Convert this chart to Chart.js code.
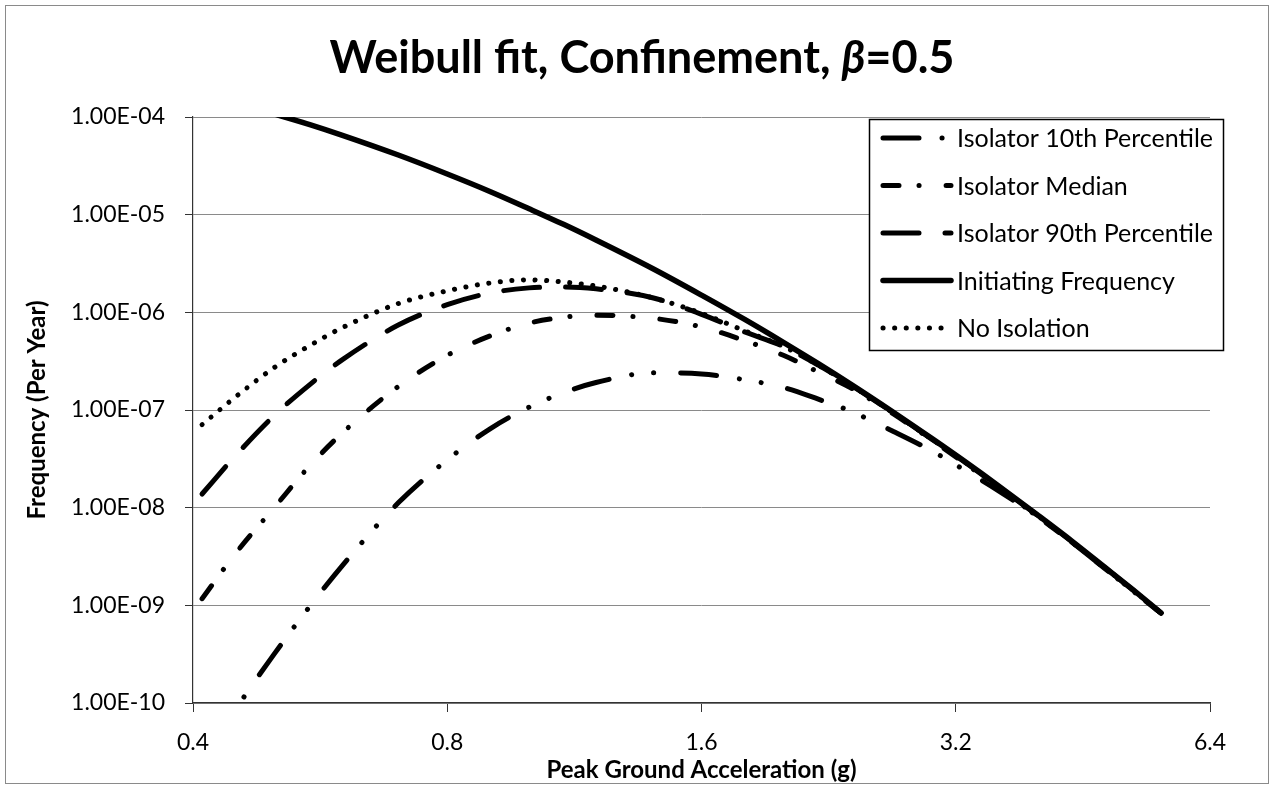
<!DOCTYPE html>
<html>
<head>
<meta charset="utf-8">
<script src="https://cdn.jsdelivr.net/npm/chart.js@4/dist/chart.umd.min.js"></script>
<style>
  html, body { margin: 0; padding: 0; background: #fff; }
  #wrap { width: 1275px; height: 786px; position: relative; }
</style>
</head>
<body>
<div id="wrap"><canvas id="c" width="1275" height="786"></canvas></div>
<script>
// Peak ground acceleration (g)
const accel = [0.41, 0.45, 0.5, 0.55, 0.6, 0.7, 0.8, 0.9, 1.0, 1.1, 1.2, 1.4, 1.6, 1.8, 2.0, 2.2, 2.4, 2.7, 3.0, 3.3, 3.6, 4.0, 4.4, 4.8, 5.2, 5.6];

// Frequencies (per year)
const iso10 = [2.24e-11, 8.71e-11, 3.24e-10, 9.77e-10, 2.51e-9, 1.12e-8, 3.09e-8, 6.46e-8, 1.07e-7, 1.51e-7, 1.91e-7, 2.40e-7, 2.34e-7, 2.04e-7, 1.70e-7, 1.29e-7, 9.77e-8, 6.03e-8, 3.80e-8, 2.34e-8, 1.48e-8, 8.13e-9, 4.37e-9, 2.40e-9, 1.38e-9, 8.32e-10];
const isoMedian = [1.17e-9, 3.47e-9, 1.02e-8, 2.69e-8, 5.75e-8, 1.74e-7, 3.63e-7, 5.75e-7, 7.76e-7, 8.91e-7, 9.33e-7, 8.71e-7, 7.08e-7, 5.13e-7, 3.63e-7, 2.45e-7, 1.70e-7, 9.12e-8, 4.90e-8, 2.75e-8, 1.58e-8, 8.13e-9, 4.37e-9, 2.40e-9, 1.38e-9, 8.32e-10];
const iso90 = [1.38e-8, 3.47e-8, 8.91e-8, 1.82e-7, 3.24e-7, 7.41e-7, 1.20e-6, 1.58e-6, 1.78e-6, 1.82e-6, 1.74e-6, 1.41e-6, 9.55e-7, 6.31e-7, 4.47e-7, 2.88e-7, 1.82e-7, 9.33e-8, 5.01e-8, 2.82e-8, 1.62e-8, 8.32e-9, 4.42e-9, 2.45e-9, 1.41e-9, 8.32e-10];
const initiating = [1.72e-4, 1.39e-4, 1.07e-4, 8.36e-5, 6.53e-5, 4.08e-5, 2.61e-5, 1.72e-5, 1.15e-5, 7.91e-6, 5.50e-6, 2.81e-6, 1.50e-6, 8.45e-7, 4.93e-7, 2.98e-7, 1.85e-7, 9.46e-8, 5.09e-8, 2.86e-8, 1.66e-8, 8.41e-9, 4.49e-9, 2.47e-9, 1.42e-9, 8.39e-10];
const noIsolation = [7.08e-8, 1.38e-7, 2.75e-7, 4.57e-7, 6.92e-7, 1.23e-6, 1.66e-6, 2.00e-6, 2.15e-6, 2.04e-6, 1.86e-6, 1.41e-6, 9.77e-7, 6.46e-7, 4.47e-7, 2.88e-7, 1.82e-7, 9.33e-8, 5.01e-8, 2.82e-8, 1.62e-8, 8.32e-9, 4.47e-9, 2.45e-9, 1.41e-9, 8.38e-10];

const seriesNames = ['Isolator 10th Percentile', 'Isolator Median', 'Isolator 90th Percentile', 'Initiating Frequency', 'No Isolation'];

const xTickValues = [0.4, 0.8, 1.6, 3.2, 6.4];
const xTickLabels = ['0.4', '0.8', '1.6', '3.2', '6.4'];
const yTickValues = [1e-10, 1e-9, 1e-8, 1e-7, 1e-6, 1e-5, 1e-4];
const yTickLabels = ['1.00E-10', '1.00E-09', '1.00E-08', '1.00E-07', '1.00E-06', '1.00E-05', '1.00E-04'];

const FONT = "Lato, 'Open Sans', 'DejaVu Sans', sans-serif";
Chart.defaults.font.family = FONT;
Chart.defaults.color = '#000';

const toPoints = arr => accel.map((x, i) => ({ x: x, y: arr[i] }));

// line patterns: long dash-dot-dot, dash-dot, long dash, solid, round dots
const styles = [
  { dash: [36, 23, 0.1, 22, 0.1, 27] },
  { dash: [16, 20, 0.1, 27] },
  { dash: [36, 26] },
  { dash: [] },
  { dash: [0.1, 11.5] }
];
const seriesData = [iso10, isoMedian, iso90, initiating, noIsolation];

const datasets = seriesData.map((arr, i) => ({
  label: seriesNames[i],
  data: toPoints(arr),
  borderColor: '#000',
  backgroundColor: '#000',
  borderWidth: i === 3 ? 5.5 : 5,
  borderDash: styles[i].dash,
  borderCapStyle: 'round',
  borderJoinStyle: 'round',
  pointRadius: 0,
  pointHoverRadius: 0,
  cubicInterpolationMode: 'monotone',
  fill: false,
  order: seriesData.length - i
}));

// page background and outer frame
const framePlugin = {
  id: 'frame',
  beforeDraw(chart) {
    const ctx = chart.ctx;
    ctx.save();
    ctx.fillStyle = '#fff';
    ctx.fillRect(0, 0, chart.width, chart.height);
    ctx.strokeStyle = '#8a8a8a';
    ctx.lineWidth = 1;
    ctx.strokeRect(5.5, 5.5, 1263, 778);
    ctx.restore();
  }
};

// chart title with an italic beta
const titlePlugin = {
  id: 'richTitle',
  afterDraw(chart) {
    const ctx = chart.ctx;
    const parts = [
      { t: 'Weibull fit, Confinement, ', f: "bold 46px " + FONT },
      { t: '\u03B2', f: "italic bold 46px " + FONT },
      { t: '=0.5', f: "bold 46px " + FONT }
    ];
    ctx.save();
    let total = 0;
    parts.forEach(p => { ctx.font = p.f; p.w = ctx.measureText(p.t).width; total += p.w; });
    const targetW = 625;
    const sx = targetW / total;
    ctx.translate(642 - targetW / 2, 73);
    ctx.scale(sx, 1);
    ctx.fillStyle = '#000';
    ctx.textBaseline = 'alphabetic';
    let x = 0;
    parts.forEach(p => { ctx.font = p.f; ctx.fillText(p.t, x, 0); x += p.w; });
    ctx.restore();
  }
};

// boxed legend in the upper right of the plot
const legendPlugin = {
  id: 'boxLegend',
  afterDatasetsDraw(chart) {
    const ctx = chart.ctx;
    const x0 = 869.5, y0 = 119.5, w = 354, h = 231;
    ctx.save();
    ctx.fillStyle = '#fff';
    ctx.fillRect(x0, y0, w, h);
    ctx.strokeStyle = '#000';
    ctx.lineWidth = 1.5;
    ctx.strokeRect(x0, y0, w, h);
    chart.data.datasets.forEach((ds, i) => {
      const cy = 138 + i * 47.5;
      ctx.beginPath();
      ctx.setLineDash(ds.borderDash || []);
      ctx.lineCap = 'round';
      ctx.lineWidth = ds.borderWidth;
      ctx.strokeStyle = ds.borderColor;
      ctx.moveTo(883, cy);
      ctx.lineTo(951, cy);
      ctx.stroke();
      ctx.setLineDash([]);
      ctx.fillStyle = '#000';
      ctx.font = "25px " + FONT;
      ctx.textBaseline = 'middle';
      ctx.textAlign = 'left';
      ctx.fillText(ds.label, 957, cy + 1);
    });
    ctx.restore();
  }
};

new Chart(document.getElementById('c'), {
  type: 'line',
  data: { datasets: datasets },
  plugins: [framePlugin, titlePlugin, legendPlugin],
  options: {
    responsive: false,
    devicePixelRatio: 1,
    animation: false,
    events: [],
    layout: { padding: { top: 117, right: 65, bottom: 0, left: 0 } },
    plugins: {
      legend: { display: false },
      title: { display: false },
      tooltip: { enabled: false }
    },
    scales: {
      x: {
        type: 'logarithmic',
        min: 0.4,
        max: 6.4,
        afterBuildTicks: s => { s.ticks = xTickValues.map(v => ({ value: v })); },
        afterFit: s => { s.height = 83; },
        ticks: {
          autoSkip: false,
          maxRotation: 0,
          padding: 17,
          color: '#000',
          font: { size: 23 },
          callback: (v, i) => xTickLabels[i]
        },
        grid: { drawOnChartArea: false, drawTicks: true, tickLength: 9, color: '#333', tickColor: '#333', lineWidth: 1 },
        border: { display: true, color: '#333', width: 1.2 },
        title: {
          display: true,
          text: 'Peak Ground Acceleration (g)',
          color: '#000',
          font: { size: 24, weight: 'bold' },
          padding: { top: 0, bottom: 1 }
        }
      },
      y: {
        type: 'logarithmic',
        min: 1e-10,
        max: 1e-4,
        afterBuildTicks: s => { s.ticks = yTickValues.map(v => ({ value: v })); },
        afterFit: s => { s.width = 193; },
        ticks: {
          autoSkip: false,
          padding: 20,
          color: '#000',
          font: { size: 23 },
          callback: (v, i) => yTickLabels[i]
        },
        grid: { drawOnChartArea: true, drawTicks: true, tickLength: 8, color: '#8a8a8a', tickColor: '#333', lineWidth: 1 },
        border: { display: true, color: '#333', width: 1.2 },
        title: {
          display: true,
          text: 'Frequency (Per Year)',
          color: '#000',
          font: { size: 24, weight: 'bold' },
          padding: { top: 23, bottom: 0 }
        }
      }
    }
  }
});
</script>
</body>
</html>
